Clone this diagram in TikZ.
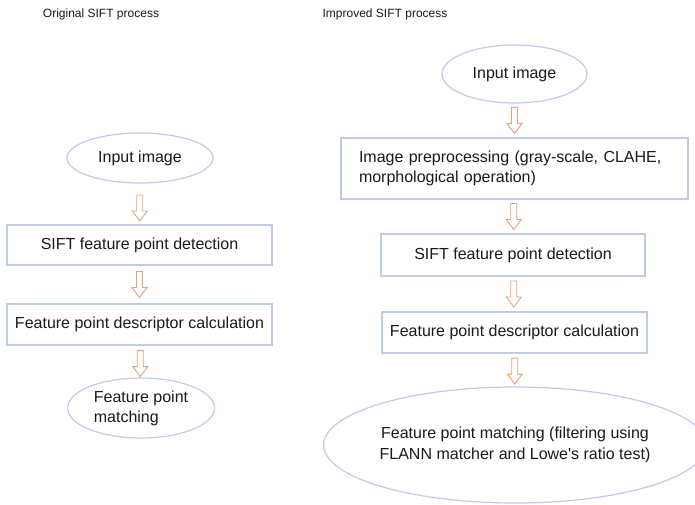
\documentclass[tikz,border=0pt]{standalone}
\usepackage{fontspec}
\setmainfont{Liberation Sans}
\usetikzlibrary{shapes.geometric,calc}

\definecolor{boxline}{HTML}{C0CBEC}
\definecolor{arrowline}{HTML}{E3A27A}
\definecolor{ink}{HTML}{1A1A1A}

\tikzset{
  title/.style={font=\fontsize{12}{14}\selectfont, text=ink, inner sep=0pt},
  stepbox/.style={draw=boxline, line width=1.4pt, rectangle, fill=white,
    font=\fontsize{16}{20}\selectfont, text=ink, inner sep=0pt},
  startend/.style={draw=boxline, line width=1.2pt, ellipse, fill=white,
    font=\fontsize{16}{20}\selectfont, text=ink, inner sep=0pt},
  hollowarrow/.style={draw=arrowline, line width=0.9pt, fill=white, line join=miter}
}

% hollow block arrow placed between two named nodes (shifted by #3)
\newcommand{\flowarrow}[3]{%
  \path let \p1 = ($(#1.south)!0.5!(#2.north)+(0,#3)$) in
    [hollowarrow] (\x1-3pt,\y1+13pt) -- (\x1+3pt,\y1+13pt) -- (\x1+3pt,\y1-3pt)
    -- (\x1+7.5pt,\y1-3pt) -- (\x1,\y1-13pt) -- (\x1-7.5pt,\y1-3pt)
    -- (\x1-3pt,\y1-3pt) -- cycle;%
}

\begin{document}
\begin{tikzpicture}[x=1pt, y=-1pt]
  \useasboundingbox[fill=white] (0,0) rectangle (695,505);

  % column headings
  \node[title] (tL) at (101,14) {Original SIFT process};
  \node[title] (tR) at (385,14) {Improved SIFT process};

  % original pipeline
  \node[startend, minimum width=146pt, minimum height=50pt] (L1) at (140,158) {Input image};
  \node[stepbox, minimum width=265pt, minimum height=40pt] (L2) at (139.5,245) {SIFT feature point detection};
  \node[stepbox, minimum width=265pt, minimum height=41pt] (L3) at (139.5,324.5) {Feature point descriptor calculation};
  \node[startend, minimum width=147pt, minimum height=60pt, align=left] (L4) at (141,408) {Feature point\\matching};

  % improved pipeline
  \node[startend, minimum width=145pt, minimum height=58pt] (R1) at (514.5,74) {Input image};
  \node[stepbox, minimum width=347pt, minimum height=61pt, text width=311pt, align=left] (R2) at (514.5,168.5)
    {Image preprocessing (gray-scale, CLAHE,\\morphological operation)};
  \node[stepbox, minimum width=264pt, minimum height=42pt] (R3) at (513,255) {SIFT feature point detection};
  \node[stepbox, minimum width=265pt, minimum height=41pt] (R4) at (514.5,332.5) {Feature point descriptor calculation};
  \node[startend, minimum width=350pt, minimum height=116pt, align=center] (R5) at (515,445)
    {Feature point matching (filtering using\\[1pt]FLANN matcher and Lowe\textquotesingle s ratio test)};

  % flow arrows
  \flowarrow{L1}{L2}{-4pt}
  \flowarrow{L2}{L3}{0pt}
  \flowarrow{L3}{L4}{-2pt}
  \flowarrow{R1}{R2}{0pt}
  \flowarrow{R2}{R3}{0pt}
  \flowarrow{R3}{R4}{0pt}
  \flowarrow{R4}{R5}{-1pt}
\end{tikzpicture}
\end{document}
